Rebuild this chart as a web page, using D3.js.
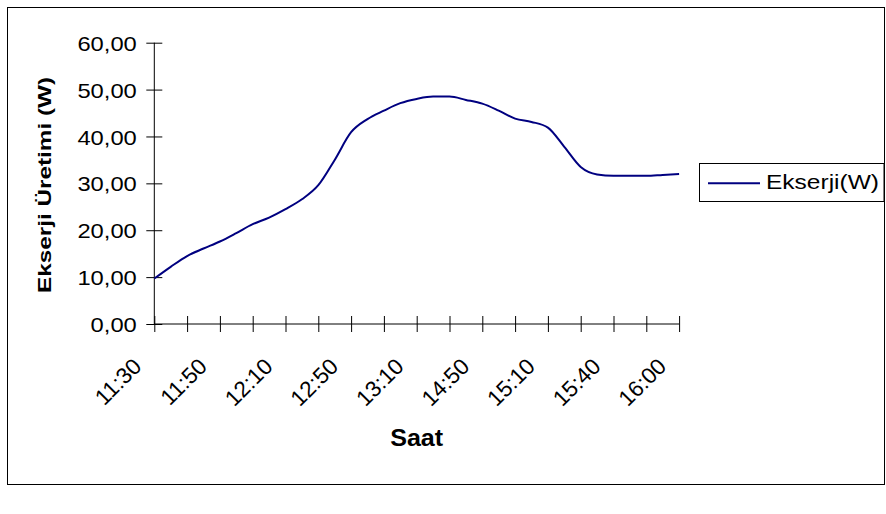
<!DOCTYPE html>
<html>
<head>
<meta charset="utf-8">
<script src="https://cdn.jsdelivr.net/npm/d3@7"></script>
<style>
  html, body { margin: 0; padding: 0; background: #fff; }
  svg { display: block; }
  text { fill: #000; }
</style>
</head>
<body>
<svg id="chart" width="886" height="514"></svg>
<script>
// Measurement times (every 4th one is labelled on the axis)
const times = [
  "11:30", "11:35", "11:40", "11:45", "11:50", "11:55", "12:00", "12:05",
  "12:10", "12:20", "12:30", "12:40", "12:50", "12:55", "13:00", "13:05",
  "13:10", "13:35", "14:00", "14:25", "14:50", "14:55", "15:00", "15:05",
  "15:10", "15:15", "15:20", "15:30", "15:40", "15:45", "15:50", "15:55",
  "16:00"
];
// Exergy production, W
const ekserji = [
  9.7, 12.2, 14.5, 16.1, 17.6, 19.4, 21.3, 22.7,
  24.5, 26.6, 29.6, 35.0, 40.9, 43.7, 45.5, 47.1,
  48.0, 48.5, 48.5, 47.8, 47.0, 45.5, 43.8, 43.1,
  41.9, 37.8, 33.5, 31.9, 31.6, 31.6, 31.6, 31.8,
  32.0
];
const yTicks = [0, 10, 20, 30, 40, 50, 60];
const seriesName = "Ekserji(W)";
const xTitle = "Saat";
const yTitle = "Ekserji Üretimi (W)";

const FONT = "'Liberation Sans', Arial, sans-serif";
const svg = d3.select("#chart");
const locale = d3.formatLocale({ decimal: ",", thousands: ".", grouping: [3], currency: ["", ""] });
const fmt = locale.format(".2f");

// Outer chart frame
svg.append("rect")
  .attr("x", 7.5).attr("y", 7.5).attr("width", 877).attr("height", 477)
  .attr("fill", "#fff").attr("stroke", "#000").attr("stroke-width", 1);

const x = d3.scalePoint().domain(times).range([154.3, 679.1]);
const y = d3.scaleLinear().domain([0, 60]).range([324, 42.7]);

// horizontal labels are drawn a little wider than the font's own advance
function widen(sel, factor) {
  sel.each(function () {
    const w = this.getComputedTextLength();
    if (w > 0) d3.select(this).attr("textLength", w * factor).attr("lengthAdjust", "spacingAndGlyphs");
  });
}

// Y axis
const yAxis = svg.append("g")
  .attr("transform", "translate(154.3,0)")
  .call(d3.axisLeft(y).tickValues(yTicks).tickFormat(fmt).tickSize(8));
yAxis.attr("font-family", FONT).attr("font-size", 21);
yAxis.select(".domain").attr("stroke", "#000").attr("d", `M0,${y(0)}V${y(60)}`);
yAxis.selectAll(".tick line").attr("x1", -8).attr("x2", 8).attr("stroke", "#000");
yAxis.selectAll(".tick text")
  .attr("x", -17.5).attr("dy", "0.36em").call(widen, 1.13);

// X axis: ticks every second time, labels every fourth
const tickTimes = times.filter((d, i) => i % 2 === 0);
const xAxis = svg.append("g")
  .attr("transform", `translate(0,${y(0)})`)
  .call(d3.axisBottom(x).tickValues(tickTimes)
    .tickFormat(d => (times.indexOf(d) % 4 === 0 ? d : "")).tickSize(8));
xAxis.attr("font-family", FONT).attr("font-size", 22.5);
xAxis.select(".domain").attr("stroke", "#000").attr("d", `M${x(times[0])},0H${x(times[times.length - 1])}`);
xAxis.selectAll(".tick line").attr("y1", -8).attr("y2", 8).attr("stroke", "#000");
xAxis.selectAll(".tick text")
  .attr("text-anchor", "end").attr("dy", null).attr("y", null)
  .attr("transform", "translate(-12,43.8) rotate(-45)");

// Series line
const line = d3.line()
  .x((d, i) => x(times[i]))
  .y(d => y(d))
  .curve(d3.curveMonotoneX);
svg.append("path")
  .datum(ekserji)
  .attr("d", line)
  .attr("fill", "none")
  .attr("stroke", "#000080")
  .attr("stroke-width", 2)
  .attr("stroke-linejoin", "round");

// Axis titles
svg.append("text")
  .attr("x", 416.7).attr("y", 445.7)
  .attr("text-anchor", "middle")
  .attr("font-family", FONT)
  .attr("font-size", 24).attr("font-weight", "bold")
  .attr("textLength", 53).attr("lengthAdjust", "spacingAndGlyphs")
  .text(xTitle);

svg.append("text")
  .attr("transform", "translate(51,185) rotate(-90)")
  .attr("text-anchor", "middle")
  .attr("font-family", FONT)
  .attr("font-size", 19).attr("font-weight", "bold")
  .attr("textLength", 216).attr("lengthAdjust", "spacingAndGlyphs")
  .text(yTitle);

// Legend
const lg = svg.append("g");
lg.append("rect")
  .attr("x", 699.5).attr("y", 163.5).attr("width", 184.5).attr("height", 38)
  .attr("fill", "#fff").attr("stroke", "#000").attr("stroke-width", 1);
lg.append("line")
  .attr("x1", 708).attr("x2", 760).attr("y1", 183.3).attr("y2", 183.3)
  .attr("stroke", "#000080").attr("stroke-width", 2);
lg.append("text")
  .attr("x", 766).attr("y", 188.8)
  .attr("font-family", FONT)
  .attr("font-size", 20.5)
  .attr("textLength", 113).attr("lengthAdjust", "spacingAndGlyphs")
  .text(seriesName);
</script>
</body>
</html>
